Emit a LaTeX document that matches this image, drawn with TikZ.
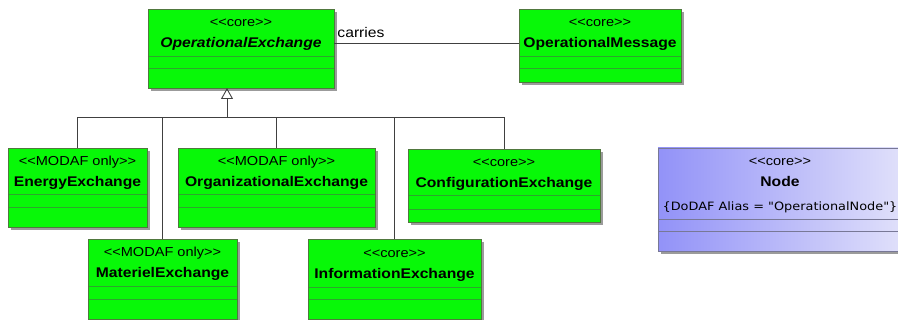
\documentclass[tikz,border=0pt]{standalone}
\usepackage{fontspec}
\usetikzlibrary{positioning,arrows.meta,shadows}
\newfontfamily\umlfont{Liberation Sans}[FakeStretch=1.12,Ligatures=TeXOff]
\newfontfamily\aliasfont{DejaVu Sans}[FakeStretch=1.12,Ligatures=TeXOff]
\newcommand{\stereofont}{\umlfont\fontsize{13}{21}\selectfont}
\newcommand{\stereo}[1]{\rule{0pt}{12pt}<<#1>>}
\newcommand{\classname}[1]{{\bfseries\fontsize{14}{21}\selectfont #1}}
\definecolor{umlGreen}{RGB}{8,248,8}
\definecolor{umlDiv}{RGB}{45,165,45}
\definecolor{umlEdge}{RGB}{80,120,62}
\definecolor{umlShadow}{RGB}{155,155,155}
\definecolor{nodeLeft}{RGB}{146,146,248}
\definecolor{nodeRight}{RGB}{224,224,250}
\definecolor{nodeEdge}{RGB}{120,120,150}

\begin{document}
\begin{tikzpicture}[x=1pt,y=-1pt,
  cls/.style={draw=umlDiv,fill=umlGreen,line width=0.8pt,inner sep=0pt,outer sep=0pt,
    drop shadow={shadow xshift=3pt,shadow yshift=-3pt,fill=umlShadow,opacity=1}},
  head/.style={cls,anchor=north west,align=center,font=\stereofont},
  nodecls/.style={cls,draw=nodeEdge,left color=nodeLeft,right color=nodeRight},
  outline/.style={draw=umlEdge,line width=0.9pt},
  conn/.style={draw=black!75,line width=0.9pt},
  gen/.style={conn,-{Triangle[open,length=11pt,width=12pt,line width=0.9pt]}}]
\useasboundingbox (0,0) rectangle (898,320);
% --- top row ---
\node[head,minimum width=186pt,minimum height=47pt] (opex) at (148,9) {\stereo{core}\\\classname{\itshape OperationalExchange}};
\node[cls,below=0pt of opex,minimum width=186pt,minimum height=12pt] (opex-attr) {};
\node[cls,below=0pt of opex-attr,minimum width=186pt,minimum height=20pt] (opex-ops) {};
\node[head,minimum width=162pt,minimum height=47pt] (opmsg) at (519,9) {\stereo{core}\\\classname{OperationalMessage}};
\node[cls,below=0pt of opmsg,minimum width=162pt,minimum height=12pt] (opmsg-attr) {};
\node[cls,below=0pt of opmsg-attr,minimum width=162pt,minimum height=14pt] (opmsg-ops) {};
% --- middle row ---
\node[head,minimum width=139pt,minimum height=46pt] (energy) at (8,148) {\stereo{MODAF only}\\\classname{EnergyExchange}};
\node[cls,below=0pt of energy,minimum width=139pt,minimum height=13pt] (energy-attr) {};
\node[cls,below=0pt of energy-attr,minimum width=139pt,minimum height=20pt] (energy-ops) {};
\node[head,minimum width=197pt,minimum height=46pt] (org) at (178,148) {\stereo{MODAF only}\\\classname{OrganizationalExchange}};
\node[cls,below=0pt of org,minimum width=197pt,minimum height=13pt] (org-attr) {};
\node[cls,below=0pt of org-attr,minimum width=197pt,minimum height=20pt] (org-ops) {};
\node[head,minimum width=192pt,minimum height=46pt] (config) at (408,149) {\stereo{core}\\\classname{ConfigurationExchange}};
\node[cls,below=0pt of config,minimum width=192pt,minimum height=14pt] (config-attr) {};
\node[cls,below=0pt of config-attr,minimum width=192pt,minimum height=13pt] (config-ops) {};
% --- bottom row ---
\node[head,minimum width=149pt,minimum height=47pt] (materiel) at (88,239) {\stereo{MODAF only}\\\classname{MaterielExchange}};
\node[cls,below=0pt of materiel,minimum width=149pt,minimum height=13pt] (materiel-attr) {};
\node[cls,below=0pt of materiel-attr,minimum width=149pt,minimum height=20pt] (materiel-ops) {};
\node[head,minimum width=173pt,minimum height=48pt] (info) at (308,239) {\stereo{core}\\\classname{InformationExchange}};
\node[cls,below=0pt of info,minimum width=173pt,minimum height=12pt] (info-attr) {};
\node[cls,below=0pt of info-attr,minimum width=173pt,minimum height=20pt] (info-ops) {};
\foreach \c in {opex,opmsg,energy,org,config,materiel,info}
  \draw[outline] (\c.north west) rectangle (\c-ops.south east);
% --- Node ---
\node[nodecls,anchor=north west,align=center,font=\stereofont,minimum width=244pt,minimum height=71pt] (opnode) at (658,148)
  {\stereo{core}\\\classname{Node}\\[3pt]\aliasfont\fontsize{11.5}{21}\selectfont\{DoDAF Alias = "OperationalNode"\}};
\node[nodecls,below=0pt of opnode,minimum width=244pt,minimum height=12pt] (opnode-attr) {};
\node[nodecls,below=0pt of opnode-attr,minimum width=244pt,minimum height=20pt] (opnode-ops) {};
\draw[outline,draw=nodeEdge] (opnode.north west) rectangle (opnode-ops.south east);
% --- connectors ---
\coordinate (bus) at (227,117);
\foreach \c in {energy,materiel,org,info,config}
  \draw[conn] (\c.north) |- (bus);
\draw[gen] (bus) -- (bus |- opex-ops.south);
\draw[conn] ([yshift=-10.5pt]opex.east) -- ([yshift=-10.5pt]opmsg.west)
  node[pos=0,anchor=base west,inner sep=0pt,xshift=3pt,yshift=5pt,font=\umlfont\fontsize{14}{17}\selectfont] (carries) {carries};
\end{tikzpicture}
\end{document}
